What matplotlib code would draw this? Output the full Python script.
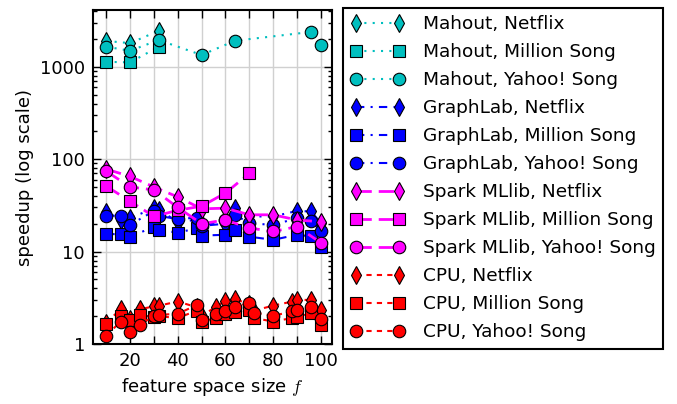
import matplotlib
matplotlib.use('Agg')
import matplotlib.pyplot as plt
from matplotlib.ticker import FixedLocator, LogLocator, NullFormatter

plt.rcParams['font.family'] = 'DejaVu Sans'
plt.rcParams['mathtext.fontset'] = 'cm'
plt.rcParams['font.size'] = 13

# --- data (speedup vs feature space size f) ---
mahout_netflix_f = [10, 20, 32]
mahout_netflix = [1900, 1800, 2450]
mahout_million_f = [10, 20, 32]
mahout_million = [1130, 1115, 1645]
mahout_yahoo_f = [10, 20, 32, 50, 64, 96, 100]
mahout_yahoo = [1645, 1490, 1945, 1340, 1910, 2380, 1730]

graphlab_f = [10, 16, 20, 30, 32, 40, 48, 50, 60, 64, 70, 80, 90, 96, 100]
graphlab_netflix = [27, 22, 23, 29.5, 28.3, 21, 22, 19, 20, 29.4, 24, 24, 27.5, 27.2, 20.3]
graphlab_million = [15.4, 15.5, 14.4, 18.6, 17.2, 16, 17.9, 14.9, 15.2, 17.2, 14.5, 13.4, 15.2, 14.6, 11.3]
graphlab_yahoo = [24.3, 24.5, 19.5, 27.5, 24.3, 22.5, 23.3, 19, 22, 25, 20.3, 19.4, 23, 21.5, 16.8]

spark_f = [10, 20, 30, 40, 50, 60, 70, 80, 90, 100]
spark_netflix = [78, 65, 50, 39, 29, 29.5, 25, 25, 22, 21]
spark_million_f = [10, 20, 30, 40, 50, 60, 70]
spark_million = [51, 35, 24, 28, 31, 43, 70]
spark_yahoo = [74, 50, 46.5, 30, 20, 22, 18, 16.5, 18.6, 12.5]

cpu_f = [10, 16, 20, 24, 30, 32, 40, 48, 50, 56, 60, 64, 70, 72, 80, 88, 90, 96, 100]
cpu_netflix = [1.7, 2.38, 1.86, 2.38, 2.55, 2.6, 2.88, 2.5, 2.0, 2.54, 2.93, 3.06,
               2.7, 2.3, 2.6, 2.88, 3.0, 3.0, 2.34]
cpu_million = [1.65, 2.02, 1.8, 2.07, 1.95, 2.0, 1.91, 2.3, 1.75, 1.91, 2.1, 2.2,
               2.34, 1.91, 1.75, 1.91, 1.95, 2.16, 1.61]
cpu_yahoo = [1.23, 1.75, 1.36, 1.61, 2.02, 2.07, 2.12, 2.65, 1.83, 2.12, 2.25, 2.5,
             2.81, 2.19, 2.02, 2.25, 2.34, 2.5, 1.86]

cyan = '#00BFBF'
blue = '#0000FF'
magenta = '#FF00FF'
red = '#FF0000'

fig = plt.figure(figsize=(6.77, 4.04), dpi=100)
ax = fig.add_axes([0.138, 0.1485, 0.352, 0.8265])

def draw(f, v, color, marker, ls, lw, label):
    ax.plot(f, v, color=color, marker=marker, linestyle=ls, linewidth=lw,
            markersize=9, markeredgecolor='black', markeredgewidth=0.8,
            markerfacecolor=color, label=label)

dot = (0, (1, 3))
dashdot = (0, (4, 3, 1, 3))
longdash = (0, (5.5, 2.5))
shortdash = (0, (2.5, 2.5))

draw(mahout_netflix_f, mahout_netflix, cyan, 'd', dot, 1.5, 'Mahout, Netflix')
draw(mahout_million_f, mahout_million, cyan, 's', dot, 1.5, 'Mahout, Million Song')
draw(mahout_yahoo_f, mahout_yahoo, cyan, 'o', dot, 1.5, 'Mahout, Yahoo! Song')
draw(graphlab_f, graphlab_netflix, blue, 'd', dashdot, 1.5, 'GraphLab, Netflix')
draw(graphlab_f, graphlab_million, blue, 's', dashdot, 1.5, 'GraphLab, Million Song')
draw(graphlab_f, graphlab_yahoo, blue, 'o', dashdot, 1.5, 'GraphLab, Yahoo! Song')
draw(spark_f, spark_netflix, magenta, 'd', longdash, 2, 'Spark MLlib, Netflix')
draw(spark_million_f, spark_million, magenta, 's', longdash, 2, 'Spark MLlib, Million Song')
draw(spark_f, spark_yahoo, magenta, 'o', longdash, 2, 'Spark MLlib, Yahoo! Song')
draw(cpu_f, cpu_netflix, red, 'd', shortdash, 1.5, 'CPU, Netflix')
draw(cpu_f, cpu_million, red, 's', shortdash, 1.5, 'CPU, Million Song')
draw(cpu_f, cpu_yahoo, red, 'o', shortdash, 1.5, 'CPU, Yahoo! Song')

ax.set_yscale('log')
ax.set_ylim(1, 4100)
ax.set_xlim(4.6, 104.6)

ax.set_yticks([1, 10, 100, 1000])
ax.set_yticklabels(['1', '10', '100', '1000'])
ax.yaxis.set_minor_locator(LogLocator(base=10, subs=range(2, 10)))
ax.yaxis.set_minor_formatter(NullFormatter())

ax.xaxis.set_major_locator(FixedLocator([20, 40, 60, 80, 100]))
ax.xaxis.set_minor_locator(FixedLocator([10, 30, 50, 70, 90]))

ax.tick_params(which='both', direction='in', top=True, right=True, width=1, pad=6)
ax.tick_params(which='major', length=6)
ax.tick_params(axis='y', which='minor', length=3)
ax.tick_params(axis='x', which='minor', length=6)

ax.grid(True, which='major', axis='y', color='#d0d0d0', linewidth=1)
ax.grid(True, which='both', axis='x', color='#d0d0d0', linewidth=1)
ax.set_axisbelow(True)
for s in ax.spines.values():
    s.set_linewidth(1.5)

ax.set_xlabel('feature space size $f$')
ax.set_ylabel('speedup (log scale)')

leg = fig.legend(loc='upper left', bbox_to_anchor=(0.5066, 0.980), borderaxespad=0,
                 numpoints=2, handlelength=2.95, handletextpad=1.0, labelspacing=0.54,
                 borderpad=0.4, fancybox=False, framealpha=1, edgecolor='black',
                 fontsize=13.3)
leg.get_frame().set_linewidth(1.5)

fig.savefig('out.png', dpi=100)
